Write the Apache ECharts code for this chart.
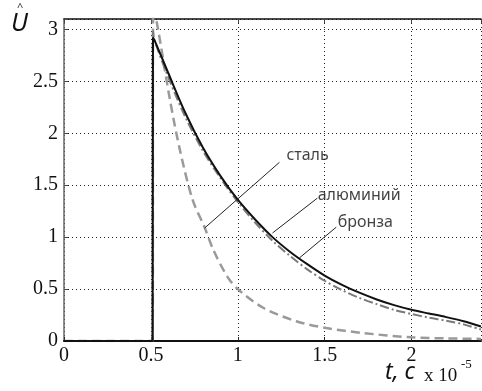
<!DOCTYPE html>
<html><head><meta charset="utf-8">
<script src="https://cdn.jsdelivr.net/npm/echarts@6/dist/echarts.min.js"></script>
<style>html,body{margin:0;padding:0;background:#fff}#c{width:482px;height:391px}</style>
</head><body><div id="c"></div>
<script>
// ---- data (t in units of 1e-5 s) ----
var solidT   = [0, 0.51, 0.512, 0.52, 0.6, 0.7, 0.8, 0.9, 1.0, 1.1, 1.2, 1.3, 1.4, 1.5, 1.6, 1.7, 1.8, 1.9, 2.0, 2.1, 2.2, 2.3, 2.4];
var solidU   = [0, 0, 2.92, 2.90, 2.58, 2.19, 1.86, 1.59, 1.36, 1.17, 1.0, 0.86, 0.74, 0.63, 0.54, 0.465, 0.40, 0.345, 0.30, 0.265, 0.23, 0.19, 0.14];
var dashDotT = [0.51, 0.513, 0.52, 0.6, 0.7, 0.8, 0.9, 1.0, 1.1, 1.2, 1.3, 1.4, 1.5, 1.6, 1.7, 1.8, 1.9, 2.0, 2.1, 2.2, 2.3, 2.4];
var dashDotU = [0, 2.98, 2.9, 2.54, 2.15, 1.83, 1.57, 1.34, 1.14, 0.965, 0.82, 0.69, 0.58, 0.49, 0.415, 0.355, 0.30, 0.26, 0.225, 0.195, 0.16, 0.11];
var dashedT  = [0, 0.51, 0.513, 0.535, 0.61, 0.667, 0.74, 0.81, 0.86, 0.94, 1.0, 1.146, 1.337, 1.51, 1.72, 2.0, 2.2, 2.4];
var dashedU  = [0, 0, 3.2, 3.06, 2.32, 1.84, 1.36, 1.09, 0.875, 0.62, 0.5, 0.32, 0.19, 0.125, 0.077, 0.035, 0.025, 0.02];
var labelNames = ['сталь', 'алюминий', 'бронза'];
var labelT     = [1.28, 1.46, 1.575];
var labelU     = [1.79, 1.40, 1.14];
var leaderFromT = [1.24, 1.458, 1.567];
var leaderFromU = [1.72, 1.375, 1.096];
var leaderToT   = [0.809, 1.2, 1.355];
var leaderToU   = [1.087, 1.04, 0.80];
var xTicks = [0, 0.5, 1, 1.5, 2];
var yTicks = [0, 0.5, 1, 1.5, 2, 2.5, 3];

function pairs(t, u){ return t.map(function(v,i){ return [v, u[i]]; }); }
var leaders = labelNames.map(function(n,i){
  return [{coord:[leaderFromT[i], leaderFromU[i]]}, {coord:[leaderToT[i], leaderToU[i]]}];
});
var labelData = labelNames.map(function(n,i){ return {value:[labelT[i], labelU[i]], name:n}; });

var chart = echarts.init(document.getElementById('c'));
var serif = 'Liberation Serif';
chart.setOption({
  animation: false,
  grid: {left: 64, top: 19, right: 1, bottom: 50},
  xAxis: [{
    type: 'value', min: 0, max: 2.4, interval: 0.5,
    axisLine: {show: true, lineStyle: {color: '#111', width: 2}},
    axisTick: {show: true, inside: true, length: 4, lineStyle: {color: '#222'}},
    axisLabel: {showMaxLabel: false, color: '#111', fontFamily: serif, fontSize: 20, margin: 5,
      formatter: function(v){ return xTicks.indexOf(v) >= 0 ? String(v) : ''; }},
    splitLine: {show: true, lineStyle: {color: '#222', type: [1, 3], width: 1}}
  }, {
    type: 'value', position: 'top', min: 0, max: 2.4, interval: 0.5,
    axisLine: {show: true, onZero: false, lineStyle: {color: '#111', width: 1.5}},
    axisTick: {show: true, inside: true, length: 4, lineStyle: {color: '#444'}},
    axisLabel: {show: false}, splitLine: {show: false}
  }],
  yAxis: {
    type: 'value', min: 0, max: 3.1, interval: 0.5,
    axisLine: {show: true, lineStyle: {color: '#666', width: 1.5}},
    axisTick: {show: true, inside: true, length: 4, lineStyle: {color: '#444'}},
    axisLabel: {showMaxLabel: false, color: '#111', fontFamily: serif, fontSize: 20, margin: 6,
      formatter: function(v){ return yTicks.indexOf(v) >= 0 ? String(v) : ''; }},
    splitLine: {show: true, lineStyle: {color: '#222', type: [1, 3], width: 1}}
  },
  series: [
    {type: 'line', name: 'dashed', data: pairs(dashedT, dashedU), symbol: 'none', smooth: 0.3, clip: true,
     lineStyle: {color: '#9a9a9a', width: 2.5, type: [9, 5]}, z: 2},
    {type: 'line', name: 'dashdot', data: pairs(dashDotT, dashDotU), symbol: 'none', smooth: 0.3, clip: true,
     lineStyle: {color: '#7a7a7a', width: 2, type: [9, 3, 2, 3]}, z: 3},
    {type: 'line', name: 'solid', data: pairs(solidT, solidU), symbol: 'none', smooth: 0.3, clip: true,
     lineStyle: {color: '#111', width: 2}, z: 4,
     markLine: {silent: true, symbol: 'none', label: {show: false},
       lineStyle: {color: '#222', width: 1, type: 'solid'}, data: leaders}},
    {type: 'scatter', name: 'labels', data: labelData, symbolSize: 0, z: 5,
     label: {show: true, position: 'right', distance: 0, formatter: '{b}', color: '#111',
       fontFamily: 'Noto Sans', fontSize: 16}}
  ],
  graphic: [
    {type: 'text', left: 11, top: 11, style: {text: 'U', fontFamily: 'Noto Sans', fontStyle: 'italic', fontSize: 25, fill: '#111'}},
    {type: 'text', left: 17, top: 2, style: {text: '^', fontFamily: 'Noto Sans', fontSize: 11, fill: '#333'}},
    {type: 'text', left: 385, top: 361, style: {text: 't, c', fontFamily: 'Noto Sans', fontStyle: 'italic', fontSize: 23, fill: '#111'}},
    {type: 'text', left: 424, top: 367, style: {text: 'x 10', fontFamily: serif, fontSize: 19, fill: '#111'}},
    {type: 'text', left: 461, top: 358, style: {text: '-5', fontFamily: serif, fontSize: 13, fill: '#111'}}
  ]
});
</script></body></html>
